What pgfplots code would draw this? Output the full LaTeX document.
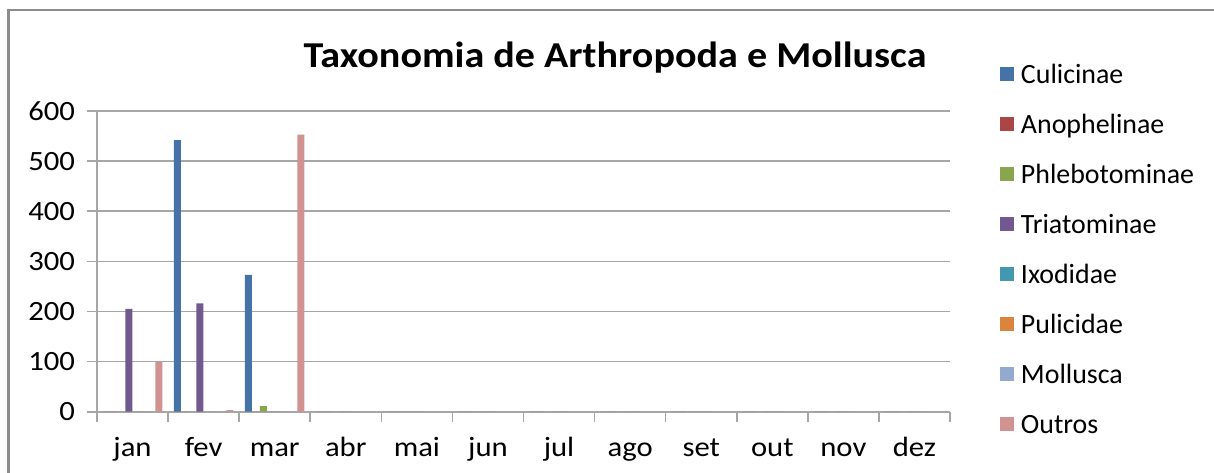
\documentclass[border=0pt]{standalone}
\usepackage{fontspec}
\setmainfont{Carlito}
\newfontfamily\widefont{Carlito}[FakeStretch=1.1]
\usepackage{pgfplots}
\pgfplotsset{compat=1.18}
\definecolor{cCul}{HTML}{4572A7}
\definecolor{cAno}{HTML}{AA4643}
\definecolor{cPhl}{HTML}{89A54E}
\definecolor{cTri}{HTML}{71588F}
\definecolor{cIxo}{HTML}{4198AF}
\definecolor{cPul}{HTML}{DB843D}
\definecolor{cMol}{HTML}{93A9CF}
\definecolor{cOut}{HTML}{D19392}
\definecolor{gridc}{HTML}{A6A6A6}
\definecolor{framec}{HTML}{8C8C8C}
\begin{document}
\begin{tikzpicture}
\useasboundingbox (0,0) rectangle (607bp,236.5bp);
\fill[white] (0,0) rectangle (607bp,236.5bp);
\draw[framec, line width=1.2bp] (4.2bp,-1bp) -- (4.2bp,231.5bp) -- (608bp,231.5bp);
\node[font=\widefont\fontsize{18.3}{20}\selectfont\bfseries, anchor=base, inner sep=0pt] at (615bp/2,202.5bp) {Taxonomia de Arthropoda e Mollusca};
\begin{axis}[
  at={(48.5bp,30.65bp)}, anchor=south west,
  scale only axis, width=426.5bp, height=150.35bp,
  xmin=0, xmax=12, ymin=0, ymax=600,
  ybar=0.25bp, bar width=3.5bp,
  axis x line*=bottom, axis y line*=left,
  axis line style={gridc, line width=0.8bp},
  xtick={0,1,...,12},
  x tick label as interval,
  xticklabels={jan,fev,mar,abr,mai,jun,jul,ago,set,out,nov,dez},
  ytick={0,100,...,600},
  ymajorgrids,
  grid style={gridc, line width=0.8bp},
  tick style={gridc, line width=0.8bp},
  tick align=outside,
  major tick length=5bp,
  /pgf/number format/assume math mode=true,
  ticklabel style={font=\widefont\fontsize{14}{16}\selectfont, text=black},
  xticklabel style={text height=10bp, text depth=3bp, yshift=-4bp},
  yticklabel style={xshift=-2.5bp},
  legend style={at={(1.0586,1.1596)}, anchor=north west, draw=none, fill=none,
    inner sep=0pt, outer sep=0pt,
    font=\fontsize{14}{16}\selectfont,
    nodes={inner sep=0pt, text height=10bp, text depth=3bp},
    row sep=12bp,
    /tikz/every odd column/.style={column sep=3.5bp}},
  legend cell align=left,
  legend image code/.code={\fill[#1] (0bp,-2.5bp) rectangle (7bp,4.5bp);},
]
\addplot[fill=cCul, draw=none] coordinates {(0.5,0) (1.5,542) (2.5,273) (3.5,0) (4.5,0) (5.5,0) (6.5,0) (7.5,0) (8.5,0) (9.5,0) (10.5,0) (11.5,0)};
\addlegendentry{Culicinae}
\addplot[fill=cAno, draw=none] coordinates {(0.5,0) (1.5,0) (2.5,0) (3.5,0) (4.5,0) (5.5,0) (6.5,0) (7.5,0) (8.5,0) (9.5,0) (10.5,0) (11.5,0)};
\addlegendentry{Anophelinae}
\addplot[fill=cPhl, draw=none] coordinates {(0.5,0) (1.5,0) (2.5,11) (3.5,0) (4.5,0) (5.5,0) (6.5,0) (7.5,0) (8.5,0) (9.5,0) (10.5,0) (11.5,0)};
\addlegendentry{Phlebotominae}
\addplot[fill=cTri, draw=none] coordinates {(0.5,205) (1.5,216) (2.5,0) (3.5,0) (4.5,0) (5.5,0) (6.5,0) (7.5,0) (8.5,0) (9.5,0) (10.5,0) (11.5,0)};
\addlegendentry{Triatominae}
\addplot[fill=cIxo, draw=none] coordinates {(0.5,0) (1.5,0) (2.5,0) (3.5,0) (4.5,0) (5.5,0) (6.5,0) (7.5,0) (8.5,0) (9.5,0) (10.5,0) (11.5,0)};
\addlegendentry{Ixodidae}
\addplot[fill=cPul, draw=none] coordinates {(0.5,0) (1.5,0) (2.5,0) (3.5,0) (4.5,0) (5.5,0) (6.5,0) (7.5,0) (8.5,0) (9.5,0) (10.5,0) (11.5,0)};
\addlegendentry{Pulicidae}
\addplot[fill=cMol, draw=none] coordinates {(0.5,0) (1.5,0) (2.5,0) (3.5,0) (4.5,0) (5.5,0) (6.5,0) (7.5,0) (8.5,0) (9.5,0) (10.5,0) (11.5,0)};
\addlegendentry{Mollusca}
\addplot[fill=cOut, draw=none] coordinates {(0.5,99) (1.5,3) (2.5,553) (3.5,0) (4.5,0) (5.5,0) (6.5,0) (7.5,0) (8.5,0) (9.5,0) (10.5,0) (11.5,0)};
\addlegendentry{Outros}
\end{axis}
\end{tikzpicture}
\end{document}
